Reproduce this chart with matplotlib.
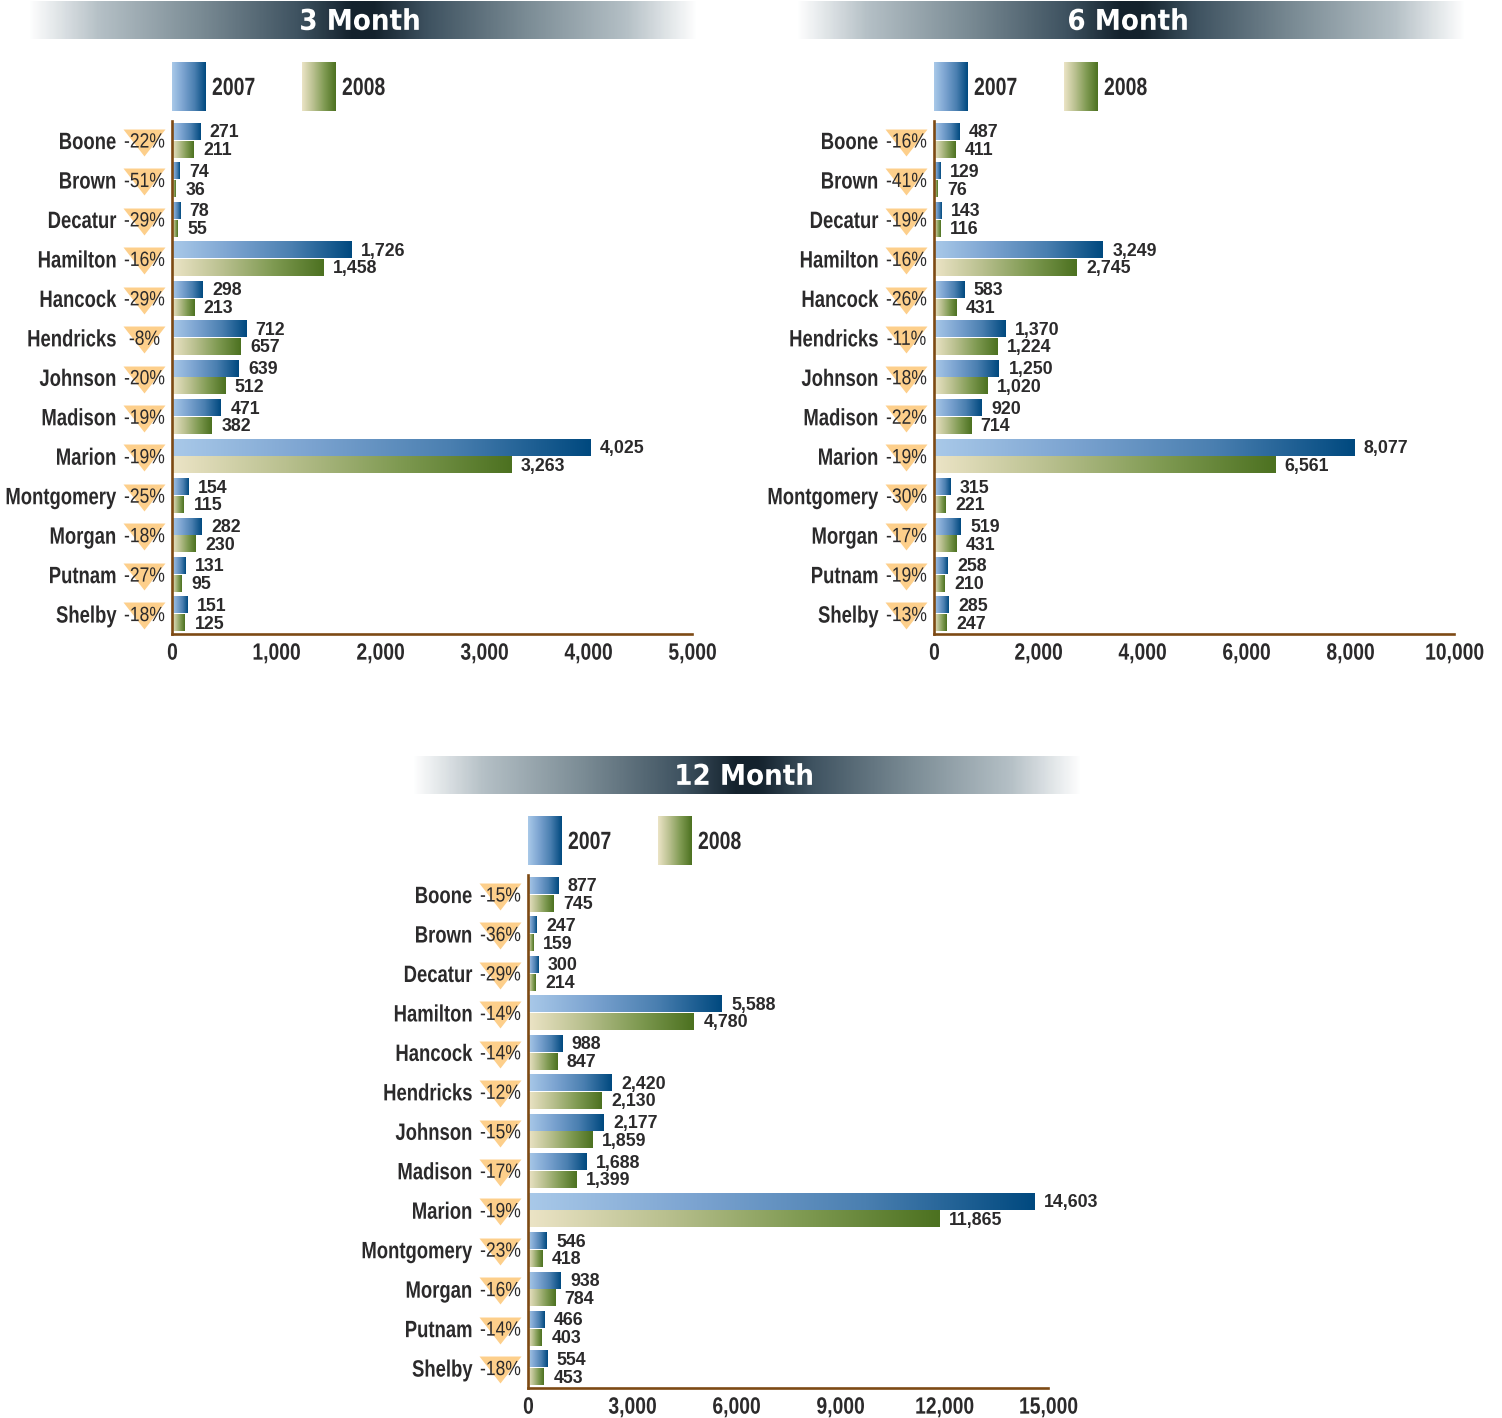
import numpy as np
import matplotlib
matplotlib.use('Agg')
import matplotlib.pyplot as plt
from matplotlib.colors import LinearSegmentedColormap as LSC
from matplotlib.transforms import blended_transform_factory as btf, Affine2D
from matplotlib.patheffects import AbstractPathEffect

W, H = 1502, 1418
counties = ['Boone','Brown','Decatur','Hamilton','Hancock','Hendricks','Johnson','Madison','Marion','Montgomery','Morgan','Putnam','Shelby']
m3_2007 = [271,74,78,1726,298,712,639,471,4025,154,282,131,151]
m3_2008 = [211,36,55,1458,213,657,512,382,3263,115,230,95,125]
m3_pct = ['-22%','-51%','-29%','-16%','-29%','-8%','-20%','-19%','-19%','-25%','-18%','-27%','-18%']
m6_2007 = [487,129,143,3249,583,1370,1250,920,8077,315,519,258,285]
m6_2008 = [411,76,116,2745,431,1224,1020,714,6561,221,431,210,247]
m6_pct = ['-16%','-41%','-19%','-16%','-26%','-11%','-18%','-22%','-19%','-30%','-17%','-19%','-13%']
m12_2007 = [877,247,300,5588,988,2420,2177,1688,14603,546,938,466,554]
m12_2008 = [745,159,214,4780,847,2130,1859,1399,11865,418,784,403,453]
m12_pct = ['-15%','-36%','-29%','-14%','-14%','-12%','-15%','-17%','-19%','-23%','-16%','-14%','-18%']
ticks3 = [0,1000,2000,3000,4000,5000]
ticks6 = [0,2000,4000,6000,8000,10000]
ticks12 = [0,3000,6000,9000,12000,15000]

class Tall(AbstractPathEffect):
    """Draw text taller than its font size, which gives the condensed look of the reference."""
    def __init__(self, sy, fontsize):
        super().__init__()
        self.sy = sy
        self.pivot = 0.36 * fontsize * 100 / 72
    def draw_path(self, renderer, gc, tpath, affine, rgbFace=None):
        f = affine.to_values()[5]
        p = f + self.pivot
        new = affine + Affine2D().translate(0, -p).scale(1, self.sy).translate(0, p)
        renderer.draw_path(gc, tpath, new, rgbFace)

FONT = 'Liberation Sans'
TXT = '#2b2a2b'
BROWN = '#7d4a14'
cm07 = LSC.from_list('c07', ['#a9c9e9','#7ba3d0','#4a7fb0','#00497f'])
cm08 = LSC.from_list('c08', ['#ece4c6','#b9c08f','#7f9a52','#4c7120'])
cmT = LSC.from_list('t', [(0,'#ffffff'),(0.21,'#b5c0c6'),(0.51,'#7b8c95'),(0.81,'#3e5260'),(0.97,'#14222d'),(1,'#14222d')])
grad = np.linspace(0,1,256)[None,:]
gT = np.r_[np.linspace(0,1,300), np.linspace(1,0,300)][None,:]

fig = plt.figure(figsize=(W/100, H/100), dpi=100, facecolor='white')
bg = fig.add_axes([0,0,1,1]); bg.set_xlim(0,W); bg.set_ylim(H,0); bg.axis('off')

def panel(x0, ytop, bx, title, v07, v08, pct, ticks):
    bt = ytop-120 if ytop == 121 else ytop-119
    bg.imshow(gT, cmap=cmT, extent=[bx,bx+670,bt+38,bt], aspect='auto', zorder=1, interpolation='bilinear')
    bg.text(bx+332, bt+21, title, color='white', fontsize=18.9, fontweight='bold', family='DejaVu Sans',
            ha='center', va='center', zorder=2, path_effects=[Tall(1.09, 18.9)])
    for off, cm, lab in ((-1, cm07, '2007'), (129, cm08, '2008')):
        bg.imshow(grad, cmap=cm, extent=[x0+off,x0+off+34,ytop-10,ytop-59], aspect='auto', zorder=1)
        bg.text(x0+off+40, ytop-32.5, lab, color=TXT, fontsize=14, fontweight='bold', family=FONT,
                ha='left', va='center', path_effects=[Tall(1.28, 14)])
    ax = fig.add_axes([(x0-0.6)/W, 1-(ytop+513)/H, 520/W, 513/H])
    ax.patch.set_alpha(0)
    xmax = max(ticks)
    y = np.arange(len(counties))
    for vals, cm, off in ((v07, cm07, -0.235), (v08, cm08, 0.215)):
        bars = ax.barh(y+off, vals, height=0.43, color='none', zorder=2)
        for b, v, yy in zip(bars, vals, y+off):
            ax.imshow(grad, cmap=cm, extent=[b.get_x(), b.get_x()+b.get_width(), b.get_y()+b.get_height(), b.get_y()],
                      aspect='auto', zorder=2)
            ax.annotate(f'{v:,}', (v, yy), xytext=(6.6,-1), textcoords='offset points', ha='left', va='center',
                        fontsize=12.8, fontweight='bold', color=TXT, family=FONT, zorder=3)
    ax.set_xlim(0, xmax); ax.set_ylim(12.5,-0.5)
    tr = btf(ax.transAxes, ax.transData)
    ax.plot([-28/520]*len(y), y, ls='none', marker=[(-21,12),(21,12),(0,-15)], ms=30.2, mfc='#fdcf8b', mec='none',
            transform=tr, clip_on=False, zorder=1)
    for yy, c, p in zip(y, counties, pct):
        ax.text(-56/520, yy+0.05, c, transform=tr, ha='right', va='center', fontsize=13.3, fontweight='bold', color=TXT,
                family=FONT, path_effects=[Tall(1.28, 13.3)])
        ax.text(-28/520, yy+0.03, p, transform=tr, ha='center', va='center', fontsize=12.6, color=TXT, family=FONT,
                path_effects=[Tall(1.18, 12.6)])
    for s in ('top','right'):
        ax.spines[s].set_visible(False)
    for s in ('left','bottom'):
        ax.spines[s].set_color(BROWN); ax.spines[s].set_linewidth(1.9); ax.spines[s].set_zorder(4)
    ax.set_yticks([])
    ax.set_xticks(ticks); ax.set_xticklabels([f'{t:,}' for t in ticks])
    ax.tick_params(axis='x', length=0, pad=8)
    for l in ax.get_xticklabels():
        l.set(fontsize=13.9, fontweight='bold', color=TXT, family=FONT, path_effects=[Tall(1.22, 13.9)])

panel(173, 121, 28, '3 Month', m3_2007, m3_2008, m3_pct, ticks3)
panel(935, 121, 796, '6 Month', m6_2007, m6_2008, m6_pct, ticks6)
panel(529, 875, 412, '12 Month', m12_2007, m12_2008, m12_pct, ticks12)
bg.set_xlim(0,W); bg.set_ylim(H,0)
fig.savefig('out.png', dpi=100)
